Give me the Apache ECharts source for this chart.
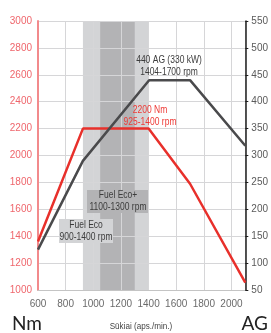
<!DOCTYPE html>
<html>
<head>
    <meta charset="utf-8">
    <title>Nm / AG</title>
    <script src="https://cdn.jsdelivr.net/npm/echarts@6/dist/echarts.min.js"></script>
    <style type="text/css">
        html, body {
            margin: 0;
            padding: 0;
            background: #ffffff;
        }

        #main {
            width: 271px;
            height: 333px;
        }
    </style>
</head>
<body>
<div id="main"></div>
<script>
    // sukiai (rpm)
    var torqueRpm = [600, 925, 1400, 1700, 2100];
    var torqueNm = [1360, 2200, 2200, 1790, 1055];
    var powerRpm = [600, 925, 1404, 1700, 2100];
    var powerAG = [125, 290, 440, 440, 318];
    // Fuel Eco zonos
    var bandNames = ['Fuel Eco', 'Fuel Eco+'];
    var bandFrom = [925, 1050];
    var bandTo = [1400, 1300];
    var bandColors = ['#d3d4d6', '#b3b3b5'];

    var font = "'Liberation Sans', Arial, sans-serif";

    function pairs(xs, ys) {
        var out = [];
        for (var i = 0; i < xs.length; i++) {
            out.push([xs[i], ys[i]]);
        }
        return out;
    }

    // siauresnis tekstas (kaip originale)
    function note(x, y, text, color) {
        return {
            type: 'text', z: 11, x: x, y: y, scaleX: 0.85,
            style: {
                text: text, fill: color, font: '10px ' + font,
                align: 'center', verticalAlign: 'middle', lineHeight: 12
            }
        };
    }

    var myChart = echarts.init(document.getElementById('main'));

    var option = {
        animation: false,
        grid: {left: 38, right: 24, top: 21, bottom: 43},
        xAxis: {
            type: 'value',
            min: 600,
            max: 2100,
            interval: 200,
            z: 2,
            axisLine: {lineStyle: {color: '#c4c4c4', width: 1}},
            axisTick: {show: false},
            axisLabel: {
                color: '#6a6a6a',
                fontFamily: font,
                fontSize: 10,
                margin: 9,
                formatter: function (v) {
                    return v > 2050 ? '' : String(v);
                }
            },
            splitLine: {lineStyle: {color: '#d6d6d8', width: 1}}
        },
        yAxis: [{
            type: 'value',
            min: 1000,
            max: 3000,
            interval: 200,
            z: 2,
            axisLine: {show: true, lineStyle: {color: '#f28a8c', width: 2}},
            axisTick: {show: false},
            axisLabel: {
                color: '#ef666c', fontFamily: font, fontSize: 10, margin: 6,
                formatter: function (v) {
                    return String(v);
                }
            },
            splitLine: {lineStyle: {color: '#d6d6d8', width: 1}}
        }, {
            type: 'value',
            position: 'right',
            min: 50,
            max: 550,
            interval: 50,
            z: 4,
            axisLine: {show: true, lineStyle: {color: '#1e1e1e', width: 1.5}},
            axisTick: {show: true, length: 3, lineStyle: {color: '#1e1e1e'}},
            axisLabel: {color: '#5a5a5a', fontFamily: font, fontSize: 10, margin: 6},
            splitLine: {show: false}
        }],
        series: [{
            name: 'bands',
            type: 'line',
            data: [],
            z: 1,
            silent: true,
            markArea: {
                silent: true,
                data: bandNames.map(function (n, i) {
                    return [{xAxis: bandFrom[i], itemStyle: {color: bandColors[i]}}, {xAxis: bandTo[i]}];
                })
            }
        }, {
            name: 'Nm',
            type: 'line',
            yAxisIndex: 0,
            z: 5,
            symbol: 'none',
            lineStyle: {color: '#e8302b', width: 2.5},
            data: pairs(torqueRpm, torqueNm)
        }, {
            name: 'AG',
            type: 'line',
            yAxisIndex: 1,
            z: 5,
            symbol: 'none',
            lineStyle: {color: '#4a4a4c', width: 2.5},
            data: pairs(powerRpm, powerAG)
        }],
        graphic: [
            {
                type: 'rect', z: 10,
                shape: {x: 87, y: 190, width: 61, height: 23},
                style: {fill: bandColors[1]}
            },
            note(118, 201, 'Fuel Eco+\n1100-1300 rpm', '#3c3c3c'),
            {
                type: 'rect', z: 10,
                shape: {x: 59, y: 219, width: 54, height: 24},
                style: {fill: bandColors[0]}
            },
            note(86, 231, 'Fuel Eco\n900-1400 rpm', '#3c3c3c'),
            note(169, 66.5, '440 AG (330 kW)\n1404-1700 rpm', '#3c3c3c'),
            note(150, 116, '2200 Nm\n925-1400 rpm', '#ee3a36'),
            {
                type: 'text', left: 12, top: 314,
                style: {text: 'Nm', fill: '#222222', font: '19px Lato, sans-serif'}
            },
            {
                type: 'text', x: 141, y: 327, scaleX: 0.9,
                style: {
                    text: 'Sūkiai (aps./min.)', fill: '#444444', font: '9px ' + font,
                    align: 'center', verticalAlign: 'middle'
                }
            },
            {
                type: 'text', right: 3, top: 314,
                style: {text: 'AG', fill: '#222222', font: '19px Lato, sans-serif'}
            }
        ]
    };
    myChart.setOption(option);
</script>
</body>
</html>
